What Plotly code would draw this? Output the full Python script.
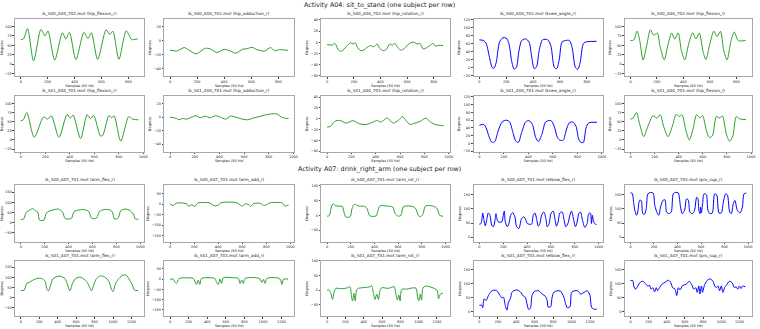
import plotly.graph_objects as go

# ---------------- data ----------------
# Activity A04 : sit_to_stand, subject S40 (T02)
s40_a04_hip_flexion_r_x = [0, 20, 50, 95, 150, 180, 202, 252, 310, 335, 362, 410, 470, 500, 525, 572, 635, 662, 685, 730, 785, 825, 840, 870]
s40_a04_hip_flexion_r_y = [65, 67, 94, 9, 92, 75, 88, 11, 83, 67, 84, 12, 84, 68, 83, 13, 91, 79, 87, 13, 88, 65, 65, 67]
s40_a04_hip_adduction_r_x = [0, 48, 72, 105, 135, 192, 228, 260, 298, 348, 398, 448, 485, 535, 572, 605, 642, 698, 742, 772, 810, 870]
s40_a04_hip_adduction_r_y = [-13.5, -15, -13, -10, -13, -19, -15, -11, -12, -17, -12.5, -15, -18, -12.5, -11.5, -9.6, -13, -15, -10, -14.5, -13, -14]
s40_a04_hip_rotation_r_x = [0, 38, 58, 80, 95, 120, 150, 175, 195, 212, 225, 250, 275, 300, 325, 350, 375, 395, 420, 445, 470, 488, 508, 525, 550, 580, 612, 645, 675, 695, 720, 745, 775, 795, 812, 838, 870]
s40_a04_hip_rotation_r_y = [-4, -5, -2, -12, -16, -14, -6, -1, -3, -1, -8, -15, -14, -9, -6, -8, -3, -11, -15, -12.5, -3, -5, -2, -8, -14, -11, -3, 0.5, -3, -2, -12, -10, -5, -2, -7, -5.5, -6]
s40_a04_knee_angle_r_x = [0, 32, 50, 78, 95, 108, 125, 150, 175, 200, 220, 240, 258, 275, 295, 315, 345, 370, 390, 408, 425, 445, 470, 508, 532, 558, 575, 595, 615, 640, 670, 690, 715, 732, 750, 775, 800, 872]
s40_a04_knee_angle_r_y = [69.6, 68, 61, 22, 1, -1, 13, 64, 75, 74, 60, 17.5, -3, 1, 43, 68, 72, 64, 26, -2, 2.4, 43, 69.6, 70, 55, 1, -2, 22, 64, 68, 68, 51, 1, -3.5, 13, 61, 65, 66]
s40_a04_hip_flexion_l_x = [0, 25, 50, 70, 95, 125, 150, 175, 202, 225, 255, 285, 310, 335, 360, 385, 410, 440, 470, 495, 520, 550, 570, 600, 630, 655, 680, 705, 730, 760, 785, 815, 870]
s40_a04_hip_flexion_l_y = [62.5, 64, 87.5, 62.5, 11, 53.6, 91, 77, 82, 45, 11.6, 53.6, 82, 67, 83, 36, 11.6, 53.6, 83, 67, 82, 31, 12.5, 53.6, 87.5, 73, 87, 36, 11.6, 62.5, 85, 62.5, 63]

# Activity A04 : sit_to_stand, subject S41 (T01)
s41_a04_hip_flexion_r_x = [0, 20, 49, 110, 186, 219, 249, 312, 378, 405, 427, 488, 542, 570, 595, 650, 668, 720, 742, 762, 816, 882, 912, 960]
s41_a04_hip_flexion_r_y = [53, 55, 75, 7, 63, 57, 66, 7, 70, 60, 68, 4, 69, 58, 67, 11, 12, 67, 60, 66, -3, 64, 57, 55]
s41_a04_hip_adduction_r_x = [0, 52, 74, 101, 134, 175, 211, 244, 285, 326, 367, 408, 449, 490, 532, 586, 627, 682, 737, 792, 847, 874, 901, 942, 960]
s41_a04_hip_adduction_r_y = [0, -2, -4, -2, -3, 0, 2, -1, 1.4, -1, 2, 0, -3, 1.4, 0, -3, -4, -1, 1.4, 4, 5, 4, 0, -2, -2]
s41_a04_hip_rotation_r_x = [0, 30, 61, 102, 157, 212, 268, 323, 378, 415, 434, 461, 489, 517, 544, 586, 622, 650, 683, 724, 765, 815, 843, 876, 917, 959]
s41_a04_hip_rotation_r_y = [-15.5, -14, -5, -3, -8, -3.6, -9.5, -10.7, -6, -3, -6, -3.6, 1.2, -3, -8, -3, 4, -3.6, -10.7, -8, -5, 1.2, -5, -9.5, -12, -13]
s41_a04_knee_angle_r_x = [0, 36, 55, 82, 104, 126, 153, 186, 219, 247, 274, 296, 318, 345, 378, 405, 433, 460, 482, 510, 542, 584, 611, 638, 658, 685, 707, 734, 762, 789, 811, 830, 849, 871, 893, 959]
s41_a04_knee_angle_r_y = [47, 49, 40, 15, 2.6, 5, 32, 55.5, 60, 55.5, 28, 7, 2.6, 28, 55.5, 59, 49, 15, 5, 23, 55.5, 59, 44.5, 15, 8.5, 8.5, 32, 53, 55.5, 44.5, 11, 2.6, 2.6, 40, 53, 54.6]
s41_a04_hip_flexion_l_x = [0, 22, 49, 77, 110, 145, 186, 219, 247, 274, 312, 351, 378, 405, 427, 460, 488, 521, 548, 575, 597, 630, 652, 679, 712, 740, 762, 795, 822, 849, 877, 904, 959]
s41_a04_hip_flexion_l_y = [57, 60, 75, 42, 9, 38, 66, 60, 69, 38, 9, 42, 70, 64, 69, 25, 0, 33, 69, 60, 67, 25, 7, 11, 64, 60, 66, 16, -3.5, 11, 64, 58, 55.5]

# Activity A07 : drink_right_arm, subject S40 (T01)
s40_a07_arm_flex_r_x = [0, 23, 46, 80, 100, 123, 143, 157, 194, 214, 246, 280, 314, 351, 371, 423, 446, 486, 537, 571, 594, 637, 657, 694, 737, 766, 786, 817, 837, 874, 909, 943, 960, 985]
s40_a07_arm_flex_r_y = [16, 18, 51, 64, 69, 59, 51, 13, 13, 47.5, 59, 64, 67, 51, 21, 21, 54, 62, 64, 54, 21, 24.6, 54, 64, 64, 54, 18, 24.6, 59, 67, 62, 42.6, 18, 18]
s40_a07_arm_add_r_x = [0, 25, 53, 109, 137, 151, 179, 207, 230, 333, 361, 395, 423, 459, 543, 571, 599, 627, 655, 669, 697, 754, 781, 810, 832, 894, 936, 955, 978, 985]
s40_a07_arm_add_r_y = [1.6, -6.5, 5, 5, 1.6, -9.7, -3, -11, 5, 5, -6.5, -6.5, 6.5, 9.7, 8, 1.6, -9.7, 1.6, -3, -11, 3, 3, -6.5, 0, 6.5, 8, 5, -9.7, -5, -5]
s40_a07_arm_rot_r_x = [0, 17, 36, 50, 73, 100, 128, 142, 156, 176, 196, 212, 232, 268, 316, 338, 358, 413, 433, 447, 511, 553, 575, 601, 623, 642, 659, 721, 749, 771, 790, 810, 827, 846, 902, 930, 950, 978]
s40_a07_arm_rot_r_y = [-3, -1, 28, 39, 32, 31, 30, 11, -5.5, -6.7, -3, 25.5, 36.7, 31, 30, 22, -1, -2, 22, 32, 31, 28, 5.5, -3, 0, 28, 31, 30, 22, -1, -4.4, 5.5, 30, 33, 30, 22, 0, -3]
s40_a07_elbow_flex_r_x = [0, 14, 28, 39, 50, 61, 75, 89, 103, 117, 131, 139, 150, 159, 187, 200, 209, 217, 234, 248, 262, 279, 298, 312, 331, 354, 373, 390, 401, 437, 451, 465, 479, 493, 507, 521, 540, 557, 568, 585, 599, 618, 635, 646, 660, 674, 694, 710, 724, 744, 758, 772, 791, 805, 819, 833, 847, 864, 883, 903, 916, 930, 939, 947, 958, 980]
s40_a07_elbow_flex_r_y = [46, 48.5, 85.5, 60, 40.5, 60, 85.5, 77.5, 43, 37, 60, 83, 60, 54, 54, 77.5, 92.5, 54, 37, 48.5, 77.5, 86.7, 71.7, 37, 31, 66, 71.7, 60, 48.5, 46, 77.5, 85.5, 66, 39, 48.5, 77.5, 89, 66, 37, 48.5, 83, 92.5, 60, 39, 54, 85.5, 89, 60, 37, 51, 77.5, 92.5, 60, 37, 54, 83, 89, 60, 34.7, 48.5, 83, 85.5, 48.5, 77.5, 54, 43]
s40_a07_pro_sup_r_x = [0, 14, 28, 37, 51, 62, 77, 91, 105, 119, 134, 148, 170, 193, 207, 227, 241, 256, 276, 293, 307, 327, 347, 364, 384, 406, 426, 440, 460, 477, 491, 506, 526, 545, 563, 574, 582, 591, 597, 602, 614, 625, 645, 659, 676, 696, 716, 733, 753, 773, 790, 810, 824, 844, 858, 875, 889, 909, 932, 952, 966, 985]
s40_a07_pro_sup_r_y = [156, 155, 118, 95, 77.5, 89, 129.5, 129.5, 83, 81, 100.6, 152.6, 158, 155, 112, 85.5, 77.5, 106, 129.5, 132, 89, 83, 89, 152.6, 158, 156, 106, 83, 95, 135, 132, 89, 83, 95, 141, 135, 95, 83, 106, 85.5, 118, 152.6, 150, 95, 83, 85.5, 152.6, 150, 85.5, 85.5, 124, 152.6, 150, 89, 83, 118, 129.5, 95, 85.5, 106, 152.6, 156]

# Activity A07 : drink_right_arm, subject S41 (T01)
s41_a07_arm_flex_r_x = [0, 36, 65, 93, 126, 173, 227, 263, 280, 299, 324, 345, 381, 424, 479, 507, 532, 561, 589, 633, 677, 719, 748, 766, 791, 821, 864, 910, 957, 982, 1000, 1029, 1065, 1108, 1144, 1180, 1209, 1233, 1270]
s41_a07_arm_flex_r_y = [34, 36, 70, 75, 84.5, 94, 94, 81, 45.5, 32.5, 62, 91, 102, 105.7, 94, 62, 32.5, 70, 91, 101, 94, 75, 49, 32.5, 62, 94, 107, 102, 78, 42, 29, 70, 94, 110.6, 110.6, 86, 62, 36, 34]
s41_a07_arm_add_r_x = [0, 33, 50, 69, 98, 177, 249, 267, 284, 303, 320, 339, 429, 483, 501, 519, 537, 555, 573, 681, 735, 753, 771, 789, 807, 934, 969, 987, 1005, 1023, 1041, 1149, 1185, 1204, 1221, 1270]
s41_a07_arm_add_r_y = [0, 0, -13, -21, 3, 6.5, 3, -10, -26, -5, -26, 3, 6.5, 3, -16, -26, 0, -21, 6.5, 6.5, 3, -21, -5, -21, 3, 6.5, 0, -16, -1.6, -21, 3, 6.5, 0, -26, 0, 0]
s41_a07_arm_rot_r_x = [0, 22, 40, 59, 77, 95, 157, 212, 249, 267, 278, 293, 307, 322, 340, 413, 468, 487, 505, 523, 542, 560, 578, 596, 670, 732, 750, 768, 783, 798, 816, 871, 944, 973, 988, 1002, 1017, 1032, 1046, 1072, 1145, 1200, 1218, 1237, 1266]
s41_a07_arm_rot_r_y = [0, 0, -11, -32, -6, 6, 4.6, 7, 11.4, -23, -37, -11, -37, 0, 6, 9, 11.4, 15, -9, -32, -14, -32, -2, 8, 6, 11.4, -11, -34, -17, -37, 2.3, 3.4, 8, 6, -23, -37, -14, -34, 6, 13.7, 9, 0, -29, -14, -11]
s41_a07_elbow_flex_r_x = [0, 25, 36, 51, 73, 98, 124, 153, 189, 225, 244, 262, 280, 298, 316, 335, 353, 371, 407, 444, 480, 498, 516, 535, 553, 571, 596, 644, 680, 716, 735, 745, 771, 789, 807, 844, 880, 916, 935, 953, 982, 1000, 1033, 1069, 1098, 1135, 1171, 1200, 1215, 1236, 1273]
s41_a07_elbow_flex_r_y = [23, 23, 14, 46, 40, 57.5, 71, 77, 75, 57.5, 49.4, 51.7, 23, 5.7, 34.5, 46, 69, 74.7, 78, 71, 55, 51.7, 28.7, 8, 11.5, 57.5, 72.4, 74.7, 63, 55, 40, 17, 17, 51.7, 69, 74.7, 73.6, 51.7, 28.7, 14, 17, 69, 74.7, 74.7, 63, 69, 74.7, 57.5, 17, 9, 9]
s41_a07_pro_sup_r_x = [0, 25, 36, 55, 80, 109, 135, 164, 189, 211, 225, 247, 265, 284, 298, 320, 345, 382, 418, 444, 465, 491, 509, 527, 545, 575, 611, 647, 673, 698, 720, 735, 753, 764, 782, 793, 818, 855, 880, 909, 927, 945, 964, 982, 1000, 1018, 1036, 1055, 1091, 1120, 1145, 1164, 1182, 1200, 1218, 1236, 1265]
s41_a07_pro_sup_r_y = [111.5, 111.5, 92, 80.5, 92, 105.7, 109, 101, 92, 94, 80.5, 86, 71, 86, 75, 86, 97.7, 105.7, 112.6, 103.4, 86, 80.5, 57.5, 86, 78, 94, 97.7, 109, 97.7, 80.5, 86, 69, 92, 63, 92, 69, 97.7, 115, 117, 109, 92, 86, 92, 75, 92, 69, 86, 94, 109, 103.4, 86, 89, 80.5, 92, 83, 92, 89]

# row metadata
row_files = ["ik_S40_A04_T02.mot", "ik_S41_A04_T01.mot", "ik_S40_A07_T01.mot", "ik_S41_A07_T01.mot"]
row_lengths = [875, 960, 985, 1275]
a04_coords = ["hip_flexion_r", "hip_adduction_r", "hip_rotation_r", "knee_angle_r", "hip_flexion_l"]
a07_coords = ["arm_flex_r", "arm_add_r", "arm_rot_r", "elbow_flex_r", "pro_sup_r"]
a04_yranges = [[-32, 120], [-51, 31], [-61, 42], [-21, 122], [-32, 120]]
a07_yranges = [[-93, 183], [-180, 90], [-89, 101], [-16, 183], [-16, 183]]
a04_ydticks = [25, 20, 20, 20, 25]
a07_ydticks = [50, 50, 50, 50, 50]
section_titles = ["Activity A04: sit_to_stand (one subject per row)",
                  "Activity A07: drink_right_arm (one subject per row)"]
x_label = "Samples (50 Hz)"
y_label = "Degrees"

series = [
    [(s40_a04_hip_flexion_r_x, s40_a04_hip_flexion_r_y), (s40_a04_hip_adduction_r_x, s40_a04_hip_adduction_r_y),
     (s40_a04_hip_rotation_r_x, s40_a04_hip_rotation_r_y), (s40_a04_knee_angle_r_x, s40_a04_knee_angle_r_y),
     (s40_a04_hip_flexion_l_x, s40_a04_hip_flexion_l_y)],
    [(s41_a04_hip_flexion_r_x, s41_a04_hip_flexion_r_y), (s41_a04_hip_adduction_r_x, s41_a04_hip_adduction_r_y),
     (s41_a04_hip_rotation_r_x, s41_a04_hip_rotation_r_y), (s41_a04_knee_angle_r_x, s41_a04_knee_angle_r_y),
     (s41_a04_hip_flexion_l_x, s41_a04_hip_flexion_l_y)],
    [(s40_a07_arm_flex_r_x, s40_a07_arm_flex_r_y), (s40_a07_arm_add_r_x, s40_a07_arm_add_r_y),
     (s40_a07_arm_rot_r_x, s40_a07_arm_rot_r_y), (s40_a07_elbow_flex_r_x, s40_a07_elbow_flex_r_y),
     (s40_a07_pro_sup_r_x, s40_a07_pro_sup_r_y)],
    [(s41_a07_arm_flex_r_x, s41_a07_arm_flex_r_y), (s41_a07_arm_add_r_x, s41_a07_arm_add_r_y),
     (s41_a07_arm_rot_r_x, s41_a07_arm_rot_r_y), (s41_a07_elbow_flex_r_x, s41_a07_elbow_flex_r_y),
     (s41_a07_pro_sup_r_x, s41_a07_pro_sup_r_y)],
]

# ---------------- layout geometry / style ----------------
W, H = 760, 329
col_px = [(14, 144), (164, 295), (322, 451), (475, 605), (627, 755)]
row_px = [(18, 76), (96, 152), (186, 243), (262, 318)]
GREEN = "#2ca02c"
BLUE = "#0000ff"
col_colors = [GREEN, GREEN, GREEN, BLUE, GREEN]
a07_colors = [GREEN, GREEN, GREEN, BLUE, BLUE]
FONT = "DejaVu Sans"
TICK_FS = 3.5
TITLE_FS = 4.2
SECTION_FS = 6.4

fig = go.Figure()
layout = dict(
    width=W, height=H, margin=dict(l=0, r=0, t=0, b=0),
    paper_bgcolor="white", plot_bgcolor="white", showlegend=False,
    font=dict(family=FONT, size=TICK_FS, color="#222"),
)
annotations = []

for r in range(4):
    a04 = r < 2
    coords = a04_coords if a04 else a07_coords
    yranges = a04_yranges if a04 else a07_yranges
    ydt = a04_ydticks if a04 else a07_ydticks
    colors = col_colors if a04 else a07_colors
    L = row_lengths[r]
    top, bot = row_px[r]
    for c in range(5):
        k = r * 5 + c + 1
        xs, ys = series[r][c]
        xa = "x" if k == 1 else f"x{k}"
        ya = "y" if k == 1 else f"y{k}"
        fig.add_trace(go.Scatter(x=xs, y=ys, mode="lines", xaxis=xa, yaxis=ya,
                                 line=dict(color=colors[c], width=1, shape="spline", smoothing=0.8),
                                 hoverinfo="skip"))
        left, right = col_px[c]
        axcommon = dict(showline=True, linecolor="#a8a8a8", linewidth=1, mirror=True,
                        showgrid=False, zeroline=False, ticks="outside", ticklen=1.5,
                        tickwidth=0.6, tickcolor="#444", tickfont=dict(size=TICK_FS, color="#222"))
        layout["xaxis" if k == 1 else f"xaxis{k}"] = dict(
            domain=[left / W, right / W], anchor=ya, range=[-0.05 * L, 1.05 * L],
            tick0=0, dtick=200,
            title=dict(text=x_label, font=dict(size=TICK_FS, color="#222"), standoff=0),
            **axcommon)
        layout["yaxis" if k == 1 else f"yaxis{k}"] = dict(
            domain=[1 - bot / H, 1 - top / H], anchor=xa, range=yranges[c],
            tick0=0, dtick=ydt[c],
            title=dict(text=y_label, font=dict(size=TICK_FS, color="#222"), standoff=2),
            **axcommon)
        annotations.append(dict(
            text=f"{row_files[r]} ({coords[c]})", xref="paper", yref="paper",
            x=(left + right) / 2 / W, y=1 - (top - 1) / H, xanchor="center", yanchor="bottom",
            showarrow=False, font=dict(size=TITLE_FS, color="#222")))

annotations.append(dict(text=section_titles[0], xref="paper", yref="paper", x=380 / W, y=1 - 4 / H,
                        xanchor="center", yanchor="middle", showarrow=False,
                        font=dict(size=SECTION_FS, color="#222")))
annotations.append(dict(text=section_titles[1], xref="paper", yref="paper", x=380 / W, y=1 - 170 / H,
                        xanchor="center", yanchor="middle", showarrow=False,
                        font=dict(size=SECTION_FS, color="#222")))
layout["annotations"] = annotations
fig.update_layout(**layout)
fig.write_html("out.html", config={"displayModeBar": False},
               post_script="document.body.style.margin='0px';document.body.style.overflow='hidden';")
